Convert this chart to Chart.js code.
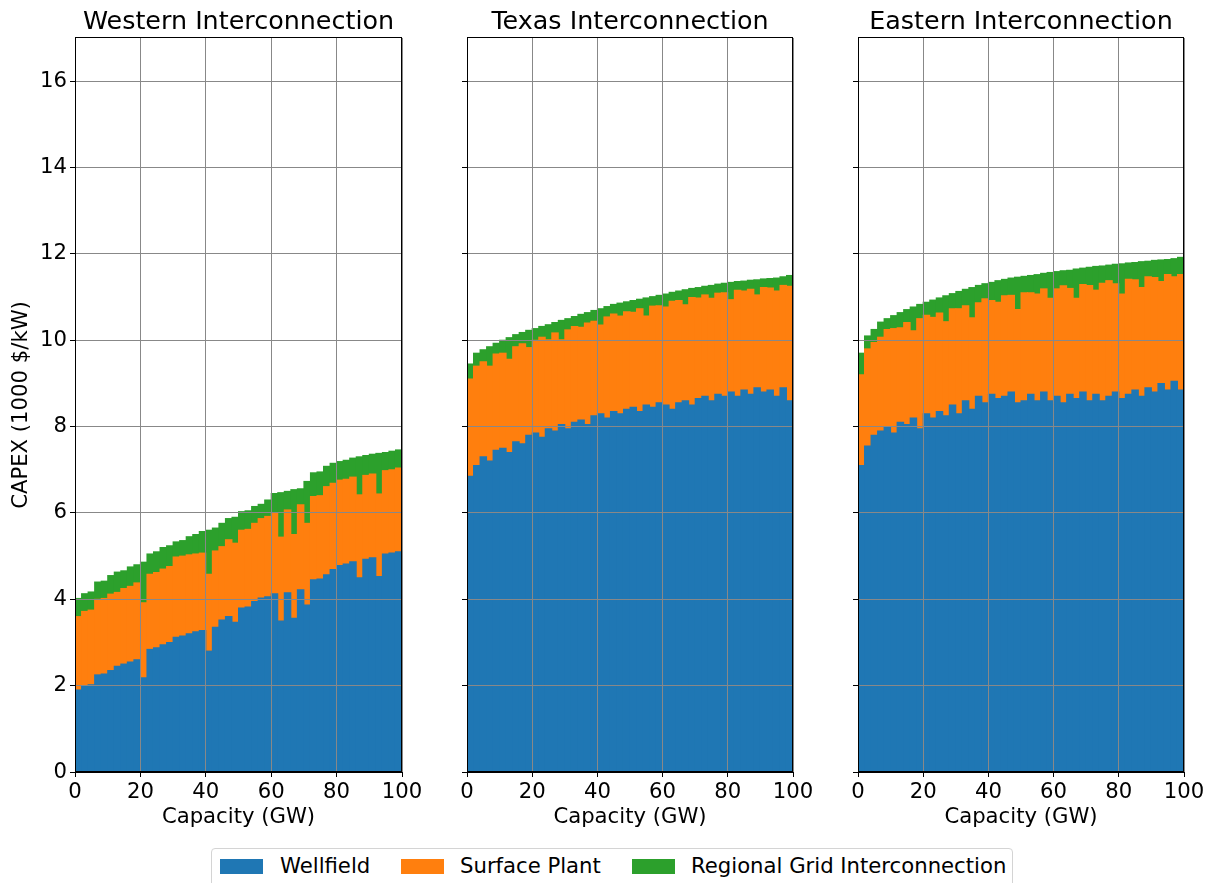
<!DOCTYPE html>
<html>
<head>
<meta charset="utf-8">
<title>CAPEX supply curves by interconnection</title>
<script src="https://cdn.jsdelivr.net/npm/chart.js@4.4.1/dist/chart.umd.min.js"></script>
<style>
  body { margin: 0; background: #fff; width: 1214px; height: 883px; overflow: hidden; position: relative;
         font-family: "DejaVu Sans", sans-serif; }
  canvas.panel { position: absolute; top: 0; }
  #legend { position: absolute; left: 211px; top: 848px; width: 802px; height: 44px;
            border: 1px solid #d4d4d4; border-radius: 4px; box-sizing: border-box; }
  #legend .sw { position: absolute; top: 10px; width: 43px; height: 15px; }
  #legend .lb { position: absolute; top: 3px; font-size: 21.2px; line-height: 28px; color: #000; white-space: nowrap; }
</style>
</head>
<body>
<canvas id="west" class="panel" width="430" height="845" style="left:0px"></canvas>
<canvas id="texas" class="panel" width="391" height="845" style="left:430px"></canvas>
<canvas id="east" class="panel" width="391" height="845" style="left:821px"></canvas>
<div id="legend">
  <div class="sw" style="left:8px;background:#1f77b4"></div><div class="lb" style="left:68px">Wellfield</div>
  <div class="sw" style="left:189px;background:#ff7f0e"></div><div class="lb" style="left:248px">Surface Plant</div>
  <div class="sw" style="left:420px;background:#2ca02c"></div><div class="lb" style="left:479px">Regional Grid Interconnection</div>
</div>
<script>
// ── data: bar centres (GW) and cost components (1000 $/kW) ──
const capacity = [1, 3, 5, 7, 9, 11, 13, 15, 17, 19, 21, 23, 25, 27, 29, 31, 33, 35, 37, 39,
  41, 43, 45, 47, 49, 51, 53, 55, 57, 59, 61, 63, 65, 67, 69, 71, 73, 75, 77, 79,
  81, 83, 85, 87, 89, 91, 93, 95, 97, 99];

const westWellfield = [1.9, 2.0, 2.02, 2.25, 2.27, 2.35, 2.45, 2.5, 2.55, 2.6,
  2.18, 2.84, 2.88, 2.95, 3.0, 3.12, 3.15, 3.2, 3.25, 3.28,
  2.8, 3.35, 3.52, 3.6, 3.47, 3.8, 3.82, 3.95, 4.03, 4.06,
  4.13, 3.5, 4.15, 3.56, 4.22, 3.87, 4.45, 4.47, 4.57, 4.69,
  4.78, 4.82, 4.87, 4.5, 4.93, 4.96, 4.53, 5.05, 5.07, 5.1];
const westSurface = [1.7, 1.72, 1.73, 1.75, 1.75, 1.77, 1.71, 1.75, 1.75, 1.78,
  1.74, 1.74, 1.74, 1.75, 1.76, 1.86, 1.85, 1.83, 1.8, 1.79,
  1.78, 1.77, 1.7, 1.78, 1.83, 1.8, 1.8, 1.81, 1.84, 1.86,
  1.87, 1.94, 1.92, 1.94, 1.97, 1.89, 1.93, 1.93, 2.04, 2.0,
  1.98, 1.96, 1.96, 1.92, 1.94, 1.94, 1.91, 1.93, 1.93, 1.94];
const westGrid = [0.42, 0.41, 0.42, 0.4, 0.4, 0.43, 0.47, 0.41, 0.45, 0.42,
  0.94, 0.47, 0.48, 0.5, 0.48, 0.35, 0.36, 0.42, 0.45, 0.5,
  1.02, 0.53, 0.54, 0.49, 0.6, 0.43, 0.43, 0.39, 0.33, 0.38,
  0.45, 1.03, 0.43, 1.04, 0.37, 0.97, 0.55, 0.55, 0.47, 0.46,
  0.43, 0.44, 0.44, 0.88, 0.46, 0.46, 0.94, 0.42, 0.43, 0.42];

const texasWellfield = [6.85, 7.1, 7.3, 7.2, 7.45, 7.5, 7.4, 7.65, 7.6, 7.8,
  7.85, 7.75, 7.95, 7.9, 8.05, 7.95, 8.1, 8.15, 8.05, 8.25,
  8.3, 8.2, 8.35, 8.3, 8.4, 8.45, 8.35, 8.5, 8.45, 8.55,
  8.5, 8.4, 8.55, 8.6, 8.5, 8.65, 8.7, 8.6, 8.75, 8.7,
  8.8, 8.7, 8.85, 8.75, 8.9, 8.8, 8.85, 8.7, 8.9, 8.6];
const texasSurface = [2.25, 2.3, 2.2, 2.2, 2.23, 2.2, 2.16, 2.2, 2.32, 2.03,
  2.15, 2.32, 2.06, 2.27, 1.96, 2.29, 2.22, 2.15, 2.35, 2.19,
  2.05, 2.34, 2.26, 2.26, 2.26, 2.2, 2.38, 2.06, 2.34, 2.25,
  2.27, 2.5, 2.37, 2.22, 2.49, 2.33, 2.35, 2.37, 2.34, 2.4,
  2.14, 2.46, 2.29, 2.43, 2.15, 2.42, 2.36, 2.44, 2.37, 2.65];
const texasGrid = [0.35, 0.3, 0.28, 0.45, 0.25, 0.3, 0.5, 0.28, 0.26, 0.4,
  0.27, 0.25, 0.35, 0.24, 0.45, 0.26, 0.23, 0.3, 0.24, 0.25,
  0.38, 0.24, 0.22, 0.3, 0.23, 0.27, 0.22, 0.42, 0.22, 0.24,
  0.3, 0.21, 0.22, 0.35, 0.21, 0.24, 0.2, 0.3, 0.21, 0.22,
  0.4, 0.2, 0.23, 0.21, 0.35, 0.2, 0.22, 0.3, 0.2, 0.25];

const eastWellfield = [7.1, 7.55, 7.8, 7.9, 8.0, 7.85, 8.1, 8.05, 8.2, 7.95,
  8.3, 8.2, 8.35, 8.25, 8.5, 8.3, 8.6, 8.4, 8.7, 8.55,
  8.75, 8.65, 8.7, 8.8, 8.55, 8.6, 8.75, 8.6, 8.8, 8.6,
  8.7, 8.55, 8.75, 8.65, 8.8, 8.6, 8.75, 8.6, 8.7, 8.8,
  8.65, 8.75, 8.85, 8.7, 8.9, 8.8, 9.0, 8.85, 9.05, 8.85];
const eastSurface = [2.1, 2.25, 2.15, 2.17, 2.25, 2.42, 2.19, 2.36, 2.02, 2.55,
  2.28, 2.33, 2.28, 2.18, 2.23, 2.43, 2.2, 2.12, 2.17, 2.41,
  2.17, 2.23, 2.33, 2.24, 2.16, 2.5, 2.35, 2.47, 2.39, 2.37,
  2.49, 2.71, 2.45, 2.32, 2.49, 2.67, 2.41, 2.72, 2.68, 2.51,
  2.42, 2.66, 2.55, 2.52, 2.57, 2.65, 2.36, 2.67, 2.42, 2.67];
const eastGrid = [0.5, 0.3, 0.3, 0.35, 0.25, 0.3, 0.35, 0.3, 0.55, 0.33,
  0.3, 0.4, 0.35, 0.6, 0.35, 0.4, 0.38, 0.7, 0.4, 0.35,
  0.42, 0.5, 0.38, 0.4, 0.75, 0.38, 0.4, 0.45, 0.36, 0.6,
  0.4, 0.35, 0.42, 0.68, 0.38, 0.42, 0.55, 0.4, 0.36, 0.45,
  0.7, 0.38, 0.4, 0.6, 0.36, 0.4, 0.5, 0.35, 0.42, 0.4];

const xTicks = [0, 20, 40, 60, 80, 100];
const SERIES_COLORS = ['#1f77b4', '#ff7f0e', '#2ca02c'];
const SERIES_LABELS = ['Wellfield', 'Surface Plant', 'Regional Grid Interconnection'];
const FONT = '"DejaVu Sans", sans-serif';
const TICK_SIZE = 21.2;

// top and right spines (matplotlib draws a full box round each axes)
const framePlugin = {
  id: 'frame',
  afterDraw(chart) {
    const { ctx, chartArea: a } = chart;
    ctx.save();
    ctx.strokeStyle = '#000';
    ctx.lineWidth = 1;
    ctx.strokeRect(Math.round(a.left) + 0.5, Math.round(a.top) - 0.5,
      Math.round(a.right - a.left) - 1, Math.round(a.bottom - a.top));
    ctx.restore();
  },
};

function makePanel(id, title, parts, showYLabels, yAxisWidth) {
  const datasets = parts.map((vals, s) => ({
    label: SERIES_LABELS[s],
    data: capacity.map((c, i) => ({ x: c, y: vals[i] })),
    backgroundColor: SERIES_COLORS[s],
    borderWidth: 0,
    inflateAmount: 0.5,
    barPercentage: 1,
    categoryPercentage: 1,
  }));

  return new Chart(document.getElementById(id), {
    type: 'bar',
    data: { datasets },
    plugins: [framePlugin],
    options: {
      responsive: false,
      animation: false,
      devicePixelRatio: 1,
      layout: { padding: { left: 0, right: 28, top: 0, bottom: 0 } },
      plugins: {
        legend: { display: false },
        tooltip: { enabled: false },
        title: {
          display: true, text: title, fullSize: false, color: '#000',
          font: { family: FONT, size: 25.4, weight: 'normal' },
          padding: { top: 7.5, bottom: 0 },
        },
      },
      scales: {
        x: {
          type: 'linear', min: 0, max: 100, offset: false, stacked: true,
          afterBuildTicks: s => { s.ticks = xTicks.map(v => ({ value: v })); },
          afterFit: s => { s.height = 73; },
          grid: { color: '#888', tickColor: '#000', tickLength: 5, offset: false, z: 1 },
          border: { color: '#000', width: 1, z: 2 },
          ticks: { color: '#000', padding: 3, maxRotation: 0, font: { family: FONT, size: TICK_SIZE } },
          title: {
            display: true, text: 'Capacity (GW)', color: '#000',
            font: { family: FONT, size: TICK_SIZE }, padding: { top: 0, bottom: 15 },
          },
        },
        y: {
          min: 0, max: 17, stacked: true,
          afterFit: s => { s.width = yAxisWidth; },
          grid: { color: '#888', tickColor: '#000', tickLength: 5, z: 1 },
          border: { color: '#000', width: 1, z: 2 },
          ticks: {
            stepSize: 2, includeBounds: false, color: '#000', padding: 3,
            font: { family: FONT, size: TICK_SIZE },
            callback: v => (showYLabels ? String(v) : ''),
          },
          title: {
            display: showYLabels, text: 'CAPEX (1000 $/kW)', color: '#000',
            font: { family: FONT, size: TICK_SIZE }, padding: { top: 9, bottom: 0 },
          },
        },
      },
    },
  });
}

makePanel('west', 'Western Interconnection', [westWellfield, westSurface, westGrid], true, 75);
makePanel('texas', 'Texas Interconnection', [texasWellfield, texasSurface, texasGrid], false, 37);
makePanel('east', 'Eastern Interconnection', [eastWellfield, eastSurface, eastGrid], false, 37);
</script>
</body>
</html>
